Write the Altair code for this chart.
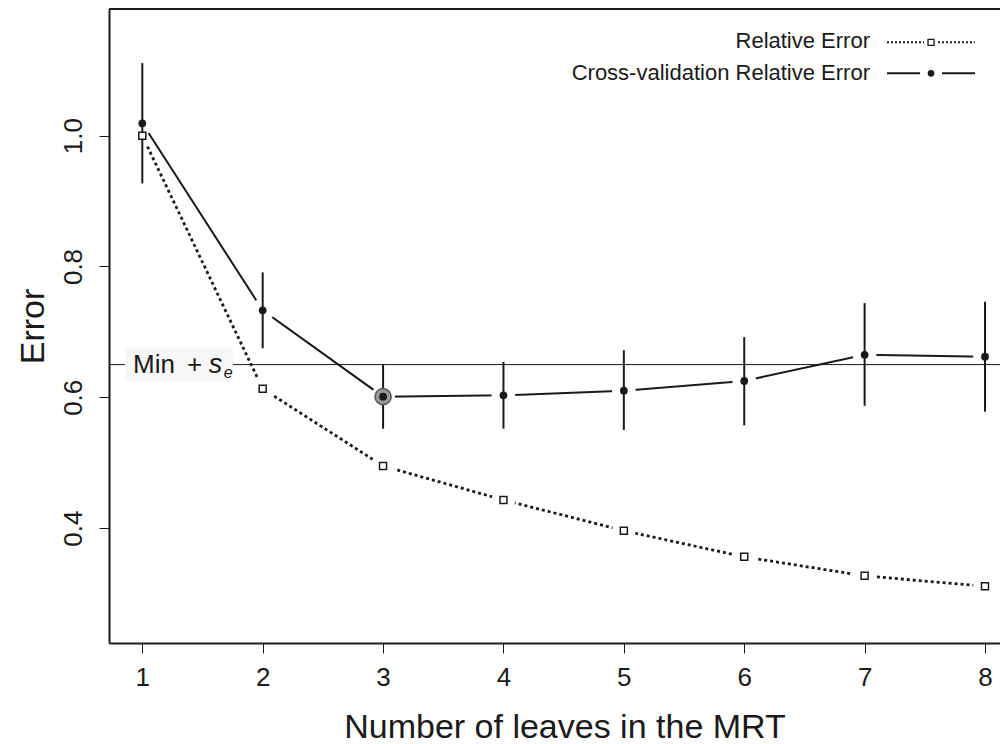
import altair as alt
import pandas as pd

# ---- data ----
leaves = [1, 2, 3, 4, 5, 6, 7, 8]
rel_err = [1.000, 0.613, 0.495, 0.443, 0.396, 0.356, 0.327, 0.311]
cv_err = [1.019, 0.733, 0.601, 0.603, 0.610, 0.625, 0.665, 0.662]
cv_lo = [0.927, 0.675, 0.552, 0.552, 0.550, 0.557, 0.587, 0.578]
cv_hi = [1.111, 0.791, 0.650, 0.654, 0.672, 0.692, 0.744, 0.746]
min_se = 0.65
best_leaf = [3]
best_cv = [0.601]
x_ticks = [1, 2, 3, 4, 5, 6, 7, 8]
y_ticks = [0.4, 0.6, 0.8, 1.0]
legend_labels = ["Relative Error", "Cross-validation Relative Error"]

df = pd.DataFrame({"leaves": leaves, "rel": rel_err, "cv": cv_err,
                   "lo": cv_lo, "hi": cv_hi})
best = pd.DataFrame({"leaves": best_leaf, "cv": best_cv})
one = pd.DataFrame({"k": [0]})

W, H = 891, 634
XDOM = [0.7234, 8.1246]
YDOM = [0.2243, 1.1937]
INK = "#1a1a1a"
FONT = "Liberation Sans"
HALO = "white"

xs = alt.Scale(domain=XDOM, nice=False, zero=False)
ys = alt.Scale(domain=YDOM, nice=False, zero=False)

xaxis = alt.Axis(values=x_ticks, format="d", title="Number of leaves in the MRT",
                 grid=False, domainColor=INK, domainWidth=2, tickColor=INK,
                 tickWidth=1, tickSize=10, labelFontSize=26, labelColor=INK,
                 labelPadding=11, labelFont=FONT, labelFlush=False,
                 titleFont=FONT, titleFontSize=34, titleFontWeight="normal",
                 titleColor=INK, titleX=455.5, titleY=94, titleAlign="center",
                 titleBaseline="alphabetic")
yaxis = alt.Axis(values=y_ticks, format=".1f", title="Error", grid=False,
                 domainColor=INK, domainWidth=2, tickColor=INK, tickWidth=1,
                 tickSize=10, labelFontSize=26, labelColor=INK, labelFont=FONT,
                 labelAngle=270, labelAlign="center", labelBaseline="alphabetic",
                 labelPadding=18, labelFlush=False,
                 titleFont=FONT, titleFontSize=34, titleFontWeight="normal",
                 titleColor=INK, titleAngle=270, titleX=-66, titleY=317,
                 titleAlign="center", titleBaseline="alphabetic")

X = alt.X("leaves:Q", scale=xs, axis=xaxis)


def Y(field):
    return alt.Y(field, type="quantitative", scale=ys, axis=yaxis)


base = alt.Chart(df)

# lines, with white discs over the points so the lines stop short of them (R type="b")
rel_line = base.mark_line(color=INK, strokeWidth=2.8, strokeDash=[3, 3]).encode(x=X, y=Y("rel"))
rel_halo = base.mark_point(shape="circle", filled=True, fill=HALO, fillOpacity=1,
                           strokeOpacity=0, opacity=1, size=560).encode(x=X, y=Y("rel"))
cv_line = base.mark_line(color=INK, strokeWidth=2).encode(x=X, y=Y("cv"))
cv_halo = base.mark_point(shape="circle", filled=True, fill=HALO, fillOpacity=1,
                          strokeOpacity=0, opacity=1, size=560).encode(x=X, y=Y("cv"))

hline = alt.Chart(one).mark_rule(color=INK, strokeWidth=1).encode(
    y=alt.datum(min_se, type="quantitative", scale=ys, axis=yaxis))

label_box = alt.Chart(one).mark_rect(color="#f8f8f8", xOffset=-17.3, x2Offset=90.7,
                                    yOffset=-16.6, y2Offset=16.4).encode(
    x=alt.datum(1, type="quantitative", scale=xs, axis=xaxis), x2=alt.datum(1),
    y=alt.datum(min_se, type="quantitative", scale=ys, axis=yaxis), y2=alt.datum(min_se))


def lab(txt, dx, dy, size, style="normal"):
    return alt.Chart(one).mark_text(text=txt, align="left", baseline="alphabetic",
                                    dx=dx, dy=dy, fontSize=size, font=FONT,
                                    fontStyle=style, color=INK).encode(
        x=alt.datum(1, type="quantitative", scale=xs, axis=xaxis),
        y=alt.datum(min_se, type="quantitative", scale=ys, axis=yaxis))


lab_min = lab("Min", -9.3, 8.5, 26)
lab_plus = lab("+", 44.7, 8.5, 26)
lab_s = lab("s", 66.5, 8.5, 27, "italic")
lab_e = lab("e", 81.5, 13.5, 16, "italic")

err = base.mark_rule(color=INK, strokeWidth=2).encode(x=X, y=Y("lo"), y2="hi")

hl = alt.Chart(best).mark_point(shape="circle", filled=True, fill="#999999", fillOpacity=1,
                                opacity=1, size=260, stroke="#555555",
                                strokeWidth=1.5).encode(x=X, y=Y("cv"))

rel_pts = base.mark_point(shape="square", filled=False, fill="white", fillOpacity=1,
                          stroke=INK, strokeWidth=1.5, opacity=1,
                          size=49).encode(x=X, y=Y("rel"))
cv_pts = base.mark_point(shape="circle", filled=True, fill=INK, fillOpacity=1, opacity=1,
                         size=60).encode(x=X, y=Y("cv"))

top = alt.Chart(one).mark_rule(color=INK, strokeWidth=2).encode(
    x=alt.value(0), x2=alt.value(W), y=alt.value(0))

# ---- manual legend (labels left, symbols right, as in the reference) ----
leg_t1 = alt.Chart(one).mark_text(text=legend_labels[0], align="right", baseline="alphabetic",
                                  fontSize=22, font=FONT, color=INK).encode(
    x=alt.value(761), y=alt.value(39))
leg_t2 = alt.Chart(one).mark_text(text=legend_labels[1], align="right", baseline="alphabetic",
                                  fontSize=22, font=FONT, color=INK).encode(
    x=alt.value(761), y=alt.value(71))
leg_r1a = alt.Chart(one).mark_rule(color=INK, strokeWidth=2, strokeDash=[2, 2]).encode(
    x=alt.value(778), x2=alt.value(815), y=alt.value(33.3))
leg_r1b = alt.Chart(one).mark_rule(color=INK, strokeWidth=2, strokeDash=[2, 2]).encode(
    x=alt.value(829), x2=alt.value(866), y=alt.value(33.3))
leg_s1 = alt.Chart(one).mark_point(shape="square", filled=False, fill="white", fillOpacity=1,
                                   stroke=INK, strokeWidth=1.3, opacity=1,
                                   size=36).encode(x=alt.value(822), y=alt.value(33.3))
leg_r2a = alt.Chart(one).mark_rule(color=INK, strokeWidth=2).encode(
    x=alt.value(778), x2=alt.value(811), y=alt.value(64.3))
leg_r2b = alt.Chart(one).mark_rule(color=INK, strokeWidth=2).encode(
    x=alt.value(833), x2=alt.value(866), y=alt.value(64.3))
leg_s2 = alt.Chart(one).mark_point(shape="circle", filled=True, fill=INK, fillOpacity=1,
                                   opacity=1, size=45).encode(
    x=alt.value(822), y=alt.value(64.3))

chart = alt.layer(
    rel_line, rel_halo, cv_line, cv_halo, hline, label_box,
    lab_min, lab_plus, lab_s, lab_e, err, hl, rel_pts, cv_pts, top,
    leg_t1, leg_t2, leg_r1a, leg_r1b, leg_s1, leg_r2a, leg_r2b, leg_s2
).properties(
    width=W, height=H,
    padding={"left": 101, "top": 1, "right": 0, "bottom": 100},
    autosize=alt.AutoSizeParams(type="none"),
    background="white",
).configure_view(stroke=None).configure(font=FONT)

chart.save("out.html", embed_options={"renderer": "svg", "actions": False})
